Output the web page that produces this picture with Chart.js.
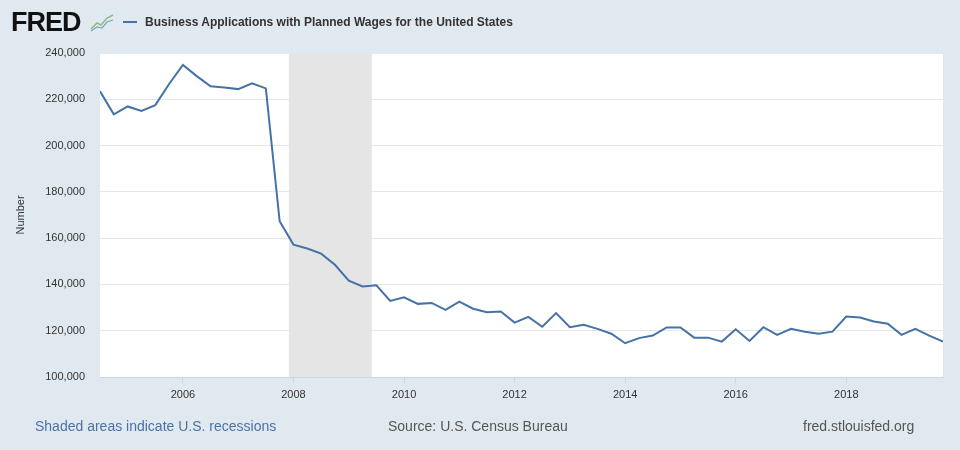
<!DOCTYPE html>
<html>
<head>
<meta charset="utf-8">
<script src="https://cdn.jsdelivr.net/npm/chart.js@4"></script>
<style>
body{margin:0;background:#e1e9f0;font-family:"Liberation Sans",Arial,sans-serif;}
#wrap{position:relative;width:960px;height:450px;overflow:hidden;}
#c{position:absolute;left:0;top:0;}
.logo{position:absolute;left:11px;top:7px;font-size:27px;font-weight:bold;letter-spacing:-1px;color:#111;}
.icon{position:absolute;left:89px;top:12px;}
.swatch{position:absolute;left:123px;top:21px;width:14px;height:2px;background:#4572a7;}
.title{position:absolute;left:145px;top:15px;font-size:12px;font-weight:bold;color:#333;}
.foot{position:absolute;top:418px;font-size:14px;color:#555;}
</style>
</head>
<body>
<div id="wrap">
<canvas id="c" width="960" height="450"></canvas>
<div class="logo">FRED</div>
<svg class="icon" width="26" height="20"><polyline points="2,17 8,11 12,13 18,6 24,3" fill="none" stroke="#8bbf7a" stroke-width="1.5"/><polyline points="2,19 8,15 13,16 18,10 24,8" fill="none" stroke="#7aa3c8" stroke-width="1.2"/></svg>
<div class="swatch"></div>
<div class="title">Business Applications with Planned Wages for the United States</div>
<div class="foot" style="left:35px;color:#4a72a8">Shaded areas indicate U.S. recessions</div>
<div class="foot" style="left:388px">Source: U.S. Census Bureau</div>
<div class="foot" style="left:803px">fred.stlouisfed.org</div>
</div>
<script>
// quarterly, 2004Q3 - 2019Q4
let quarters=[
"2004Q3","2004Q4",
"2005Q1","2005Q2","2005Q3","2005Q4",
"2006Q1","2006Q2","2006Q3","2006Q4",
"2007Q1","2007Q2","2007Q3","2007Q4",
"2008Q1","2008Q2","2008Q3","2008Q4",
"2009Q1","2009Q2","2009Q3","2009Q4",
"2010Q1","2010Q2","2010Q3","2010Q4",
"2011Q1","2011Q2","2011Q3","2011Q4",
"2012Q1","2012Q2","2012Q3","2012Q4",
"2013Q1","2013Q2","2013Q3","2013Q4",
"2014Q1","2014Q2","2014Q3","2014Q4",
"2015Q1","2015Q2","2015Q3","2015Q4",
"2016Q1","2016Q2","2016Q3","2016Q4",
"2017Q1","2017Q2","2017Q3","2017Q4",
"2018Q1","2018Q2","2018Q3","2018Q4",
"2019Q1","2019Q2","2019Q3","2019Q4"
];
let applications=[
223500,213500,
216900,215000,217500,226600,
234800,230000,225600,225100,
224400,226900,224700,167300,
157200,155500,153300,148500,
141600,139100,139600,132900,
134400,131600,132000,129000,
132600,129500,128000,128300,
123500,126000,121700,127600,
121500,122600,120800,118700,
114600,116800,117900,121400,
121400,117000,117000,115300,
120600,115600,121500,118200,
120800,119600,118700,119600,
126100,125700,124000,123000,
118200,120800,117900,115300
];
let yearTicks=[2006,2008,2010,2012,2014,2016,2018];
let valueTicks=[100000,120000,140000,160000,180000,200000,220000,240000];
let recessions=[["2007-12","2009-06"]];

function qToYear(s){
let y=parseInt(s.slice(0,4));
let q=parseInt(s.slice(5));
return y+(q-1)/4;
}
function mToYear(s){
return parseInt(s.slice(0,4))+(parseInt(s.slice(5))-1)/12;
}

let points=quarters.map((q,i)=>({x:qToYear(q),y:applications[i]}));

let plotBg={
id:"plotBg",
beforeDraw(chart){
let a=chart.chartArea,ctx=chart.ctx;
ctx.save();
ctx.fillStyle="#ffffff";
ctx.fillRect(a.left,a.top,a.right-a.left,a.bottom-a.top);
ctx.restore();
},
beforeDatasetsDraw(chart){
let a=chart.chartArea,ctx=chart.ctx,x=chart.scales.x;
ctx.save();
ctx.fillStyle="#e5e5e5";
recessions.forEach(r=>{
let x0=x.getPixelForValue(mToYear(r[0]));
let x1=x.getPixelForValue(mToYear(r[1]));
ctx.fillRect(x0,a.top,x1-x0,a.bottom-a.top);
});
ctx.restore();
}
};

new Chart(document.getElementById("c"),{
type:"line",
data:{
datasets:[{
data:points,
borderColor:"#4572a7",
borderWidth:2,
pointRadius:0,
tension:0,
fill:false
}]
},
options:{
responsive:false,
animation:false,
layout:{padding:{top:53,right:17,bottom:43,left:0}},
plugins:{legend:{display:false},tooltip:{enabled:false}},
scales:{
x:{
type:"linear",
min:qToYear(quarters[0]),
max:qToYear(quarters[quarters.length-1]),
afterBuildTicks(s){s.ticks=yearTicks.map(v=>({value:v}));},
afterFit(s){s.height=30;},
grid:{drawOnChartArea:false,drawTicks:true,tickLength:6,color:"#ccd6eb"},
border:{color:"#ccd6eb",width:1},
ticks:{padding:5,maxRotation:0,color:"#333",font:{family:"Liberation Sans",size:11},callback:v=>String(v)}
},
y:{
min:100000,
max:240000,
afterBuildTicks(s){s.ticks=valueTicks.map(v=>({value:v}));},
afterFit(s){s.width=100;},
grid:{color:"#e6e6e6",drawTicks:false},
border:{display:false},
ticks:{padding:15,color:"#333",font:{family:"Liberation Sans",size:11},callback:v=>v.toLocaleString("en-US")},
title:{display:true,text:"Number",color:"#333",font:{family:"Liberation Sans",size:11},padding:{top:14,bottom:0}}
}
}
},
plugins:[plotBg]
});
</script>
</body>
</html>
